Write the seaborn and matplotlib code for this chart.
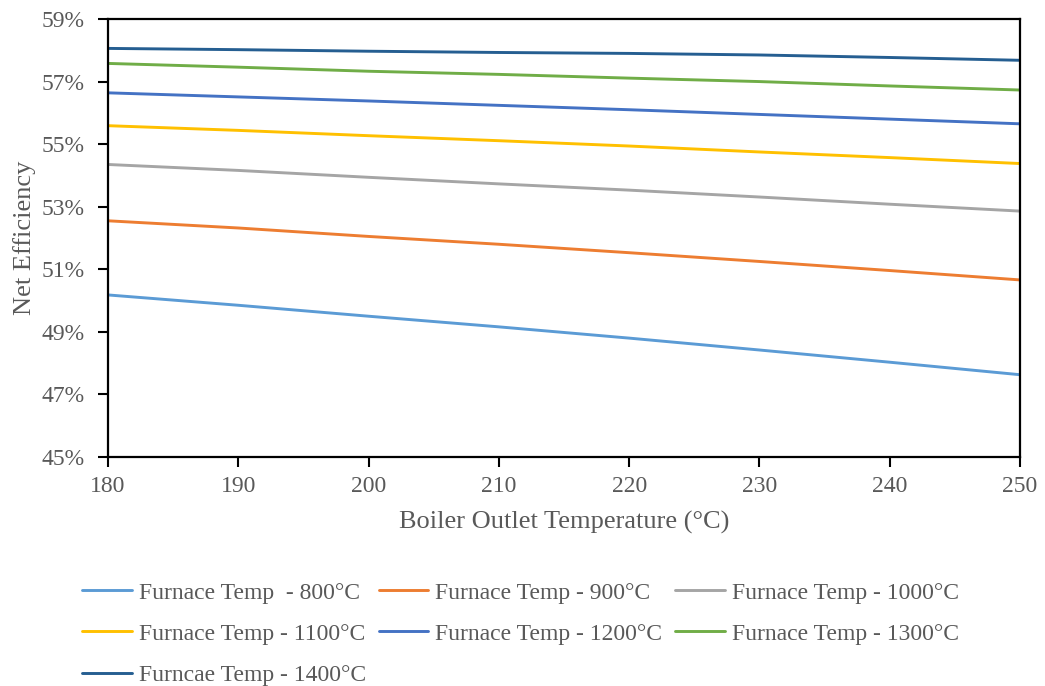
import numpy as np
import pandas as pd
import matplotlib
matplotlib.use("Agg")
import matplotlib.pyplot as plt
import seaborn as sns
from matplotlib.ticker import FuncFormatter

# ---- data ----
boiler_outlet = [180, 190, 200, 210, 220, 230, 240, 250]
series_labels = [
    "Furnace Temp  - 800°C",
    "Furnace Temp - 900°C",
    "Furnace Temp - 1000°C",
    "Furnace Temp - 1100°C",
    "Furnace Temp - 1200°C",
    "Furnace Temp - 1300°C",
    "Furncae Temp - 1400°C",
]
eff_800 = [50.18, 49.85, 49.50, 49.16, 48.80, 48.42, 48.03, 47.63]
eff_900 = [52.55, 52.32, 52.05, 51.80, 51.53, 51.25, 50.96, 50.66]
eff_1000 = [54.35, 54.16, 53.94, 53.73, 53.53, 53.31, 53.08, 52.86]
eff_1100 = [55.59, 55.44, 55.27, 55.11, 54.94, 54.75, 54.57, 54.38]
eff_1200 = [56.64, 56.51, 56.38, 56.24, 56.10, 55.95, 55.80, 55.65]
eff_1300 = [57.58, 57.46, 57.33, 57.23, 57.11, 57.00, 56.86, 56.73]
eff_1400 = [58.06, 58.02, 57.97, 57.93, 57.90, 57.85, 57.77, 57.68]
series_values = [eff_800, eff_900, eff_1000, eff_1100, eff_1200, eff_1300, eff_1400]
colors = ["#5B9BD5", "#ED7D31", "#A5A5A5", "#FFC000", "#4472C4", "#70AD47", "#255E91"]
y_ticks = [45, 47, 49, 51, 53, 55, 57, 59]
x_ticks = [180, 190, 200, 210, 220, 230, 240, 250]

rows = []
for lab, vals in zip(series_labels, series_values):
    for x, v in zip(boiler_outlet, vals):
        rows.append({"Boiler": x, "Eff": v, "Series": lab})
df = pd.DataFrame(rows)

sns.set_theme(style="white")
plt.rcParams["font.family"] = ["Liberation Serif", "DejaVu Serif"]

GREY = "#595959"
FS = 17
FS_LAB = 19

fig = plt.figure(figsize=(10.45, 6.86), dpi=100)
ax = fig.add_axes([108 / 1045, 1 - 457 / 686, (1020 - 108) / 1045, (457 - 19) / 686])

sns.lineplot(data=df, x="Boiler", y="Eff", hue="Series", hue_order=series_labels,
             palette=dict(zip(series_labels, colors)), linewidth=2.1, ax=ax, legend=True)

ax.set_xlim(180, 250)
ax.set_ylim(45, 59)
ax.set_xticks(x_ticks)
ax.set_yticks(y_ticks)
ax.yaxis.set_major_formatter(FuncFormatter(lambda v, p: f"{v:.0f}%"))
ax.tick_params(axis="both", which="major", direction="out", length=7, width=1.5,
               color="black", labelsize=FS, labelcolor=GREY, left=True, bottom=True)
ax.tick_params(axis="y", pad=10)
ax.tick_params(axis="x", pad=7)
for s in ax.spines.values():
    s.set_visible(True)
    s.set_color("black")
    s.set_linewidth(1.6)
ax.grid(False)

ax.set_xlabel("Boiler Outlet Temperature (°C)", fontsize=FS_LAB, color=GREY, labelpad=10)
ax.set_ylabel("Net Efficiency", fontsize=FS_LAB, color=GREY, labelpad=4)

handles, labels = ax.get_legend_handles_labels()
hmap = dict(zip(labels, handles))
order = [0, 3, 6, 1, 4, 2, 5]
ax.get_legend().remove()
leg = fig.legend([hmap[series_labels[i]] for i in order], [series_labels[i] for i in order],
                 ncol=3, loc="upper left", bbox_to_anchor=(82 / 1045, 1 - 582 / 686),
                 frameon=False, fontsize=FS, handlelength=2.1, handletextpad=0.3,
                 columnspacing=0.55, labelspacing=0.83, borderpad=0, borderaxespad=0)
for t in leg.get_texts():
    t.set_color(GREY)

fig.savefig("out.png", dpi=100, facecolor="white")
